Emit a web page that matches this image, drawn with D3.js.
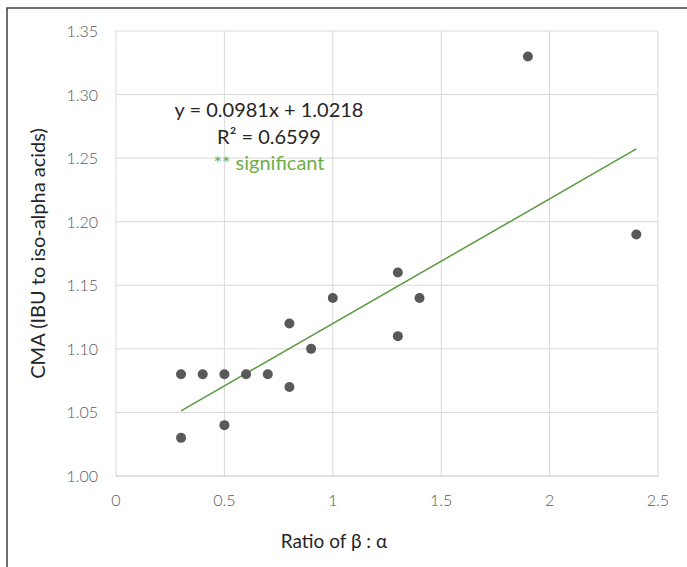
<!DOCTYPE html>
<html>
<head>
<meta charset="utf-8">
<script src="https://cdn.jsdelivr.net/npm/d3@7"></script>
<style>
  body { margin: 0; background: #fff; }
  svg { display: block; font-family: Lato, "Open Sans", sans-serif; }
</style>
</head>
<body>
<svg id="chart"></svg>
<script>
const outerWidth = 687;
const outerHeight = 567;
const margin = {left: 116, top: 31, right: 29, bottom: 91};
const width = outerWidth - margin.left - margin.right;
const height = outerHeight - margin.top - margin.bottom;

// ratio of beta : alpha
const ratio = [0.3, 0.4, 0.5, 0.6, 0.7, 0.8, 0.8, 0.9, 1.0, 1.3, 1.3, 1.4, 1.9, 2.4, 0.3, 0.5];
// CMA values
const cma = [1.08, 1.08, 1.08, 1.08, 1.08, 1.12, 1.07, 1.10, 1.14, 1.16, 1.11, 1.14, 1.33, 1.19, 1.03, 1.04];
const xTicks = [0, 0.5, 1, 1.5, 2, 2.5];
const yTicks = [1.00, 1.05, 1.10, 1.15, 1.20, 1.25, 1.30, 1.35];
const slope = 0.0981;
const intercept = 1.0218;
const labels = ["y = 0.0981x + 1.0218", "R² = 0.6599", "** significant"];

var svg = d3.select("#chart")
  .attr("width", outerWidth)
  .attr("height", outerHeight);

// outer chart frame (cropped at right / bottom)
svg.append("rect")
  .attr("x", 7).attr("y", 8)
  .attr("width", outerWidth + 20).attr("height", outerHeight + 20)
  .style("fill", "none").style("stroke", "#404040").style("stroke-width", 1.5);

var g = svg.append("g")
  .attr("transform", "translate(" + margin.left + "," + margin.top + ")");

var x = d3.scaleLinear().domain([0, 2.5]).range([0, width]);
var y = d3.scaleLinear().domain([1.0, 1.35]).range([height, 0]);

// gridlines
g.append("g").selectAll("line.v")
  .data(xTicks)
  .enter().append("line")
  .attr("x1", d => x(d)).attr("x2", d => x(d))
  .attr("y1", 0).attr("y2", height)
  .style("stroke", "#d9d9d9").style("stroke-width", 1);

g.append("g").selectAll("line.h")
  .data(yTicks.slice(1))
  .enter().append("line")
  .attr("x1", 0).attr("x2", width)
  .attr("y1", d => y(d)).attr("y2", d => y(d))
  .style("stroke", "#d9d9d9").style("stroke-width", 1);

// bottom axis line
g.append("line")
  .attr("x1", 0).attr("x2", width)
  .attr("y1", height).attr("y2", height)
  .style("stroke", "#bfbfbf").style("stroke-width", 1);

// tick labels
g.append("g").selectAll("text")
  .data(xTicks)
  .enter().append("text")
  .attr("x", d => x(d)).attr("y", height + 30)
  .attr("text-anchor", "middle")
  .style("font-size", "16px").style("font-weight", 300).style("fill", "#595959")
  .text(d => d);

g.append("g").selectAll("text")
  .data(yTicks)
  .enter().append("text")
  .attr("x", -18).attr("y", d => y(d) + 6)
  .attr("text-anchor", "end")
  .style("font-size", "16px").style("font-weight", 300).style("fill", "#595959")
  .text(d => d.toFixed(2));

// trendline
var trend = [d3.min(ratio), d3.max(ratio)];
g.append("line")
  .attr("x1", x(trend[0])).attr("y1", y(slope * trend[0] + intercept))
  .attr("x2", x(trend[1])).attr("y2", y(slope * trend[1] + intercept))
  .style("stroke", "#5a9a3c").style("stroke-width", 1.5);

// points
g.append("g").selectAll("circle")
  .data(ratio.map((r, i) => [r, cma[i]]))
  .enter().append("circle")
  .attr("cx", d => x(d[0])).attr("cy", d => y(d[1]))
  .attr("r", 5)
  .style("fill", "#595959");

// equation labels
g.append("g").selectAll("text")
  .data(labels)
  .enter().append("text")
  .attr("x", 153).attr("y", (d, i) => 86 + i * 26.5)
  .attr("text-anchor", "middle")
  .style("font-size", "20px")
  .style("fill", (d, i) => i == 2 ? "#70ad47" : "#262626")
  .text(d => d);

// axis titles
svg.append("text")
  .attr("x", 334).attr("y", 548)
  .attr("text-anchor", "middle")
  .style("font-size", "19px").style("fill", "#262626")
  .text("Ratio of β : α");

svg.append("text")
  .attr("transform", "translate(45," + (margin.top + height / 2) + ") rotate(-90)")
  .attr("text-anchor", "middle")
  .style("font-size", "20px").style("fill", "#262626")
  .text("CMA (IBU to iso-alpha acids)");
</script>
</body>
</html>
